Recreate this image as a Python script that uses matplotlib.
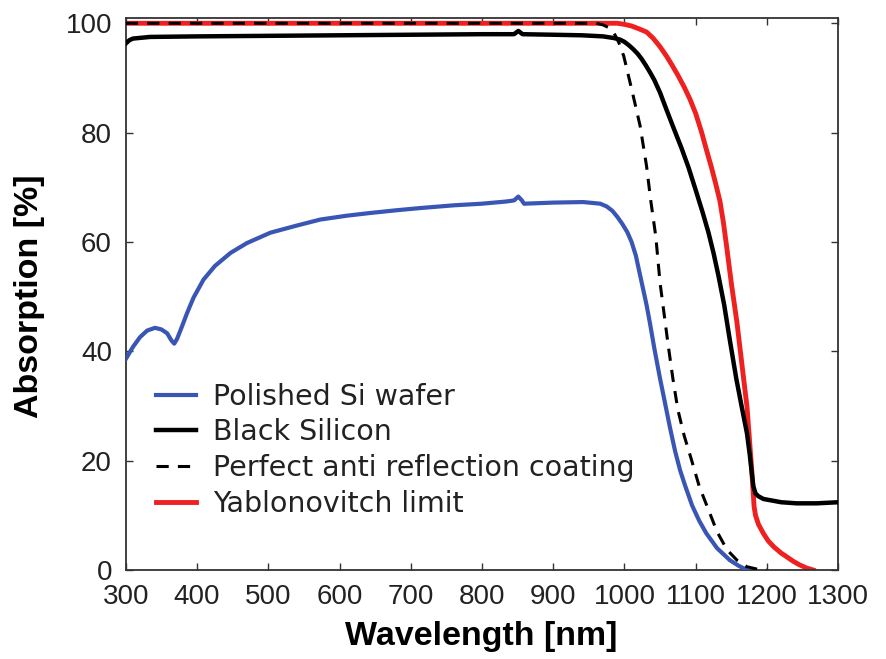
"""
Absorption spectra: polished Si wafer, black silicon, perfect AR coating
and the Yablonovitch limit, 300-1300 nm.
"""

import matplotlib
matplotlib.use("Agg")
import matplotlib.pyplot as plt
import matplotlib.ticker as mticker

# ── Data ──────────────────────────────────────────────────────────────────────
wl_polished = [300, 310, 320, 330, 341, 350, 358, 364, 368, 372, 379, 386, 395,
               409, 425, 447, 470, 503, 540, 573, 610, 643, 680, 713, 760, 800,
               834, 845, 851, 856, 859, 900, 942, 966, 975, 983, 990, 997, 1004,
               1010, 1016, 1021, 1026, 1031, 1036, 1042, 1050, 1057, 1064, 1071,
               1078, 1085, 1095, 1105, 1115, 1130, 1148, 1160, 1172]
abs_polished = [38.6, 40.8, 42.6, 43.8, 44.3, 44.0, 43.3, 42.0, 41.4, 42.3, 44.6,
                47.0, 49.8, 53.1, 55.6, 58.0, 59.8, 61.7, 63.0, 64.1, 64.8, 65.3,
                65.8, 66.2, 66.7, 67.0, 67.4, 67.6, 68.3, 67.6, 67.0, 67.2, 67.3,
                67.0, 66.5, 65.7, 64.6, 63.3, 61.8, 60.0, 57.5, 54.5, 51.5, 48.5,
                45.0, 40.5, 35.0, 30.5, 26.0, 21.8, 18.3, 15.5, 11.8, 9.0, 6.7,
                4.0, 1.8, 0.8, 0.0]

wl_black = [300, 305, 310, 334, 400, 500, 600, 700, 800, 845, 851, 857, 900, 940,
            970, 985, 994, 1000, 1006, 1012, 1018, 1024, 1030, 1036, 1042, 1050,
            1059, 1070, 1080, 1090, 1100, 1110, 1118, 1125, 1132, 1140, 1148,
            1157, 1165, 1172, 1176, 1179, 1181, 1184, 1188, 1195, 1220, 1242,
            1270, 1300]
abs_black = [96.3, 96.9, 97.2, 97.5, 97.6, 97.7, 97.8, 97.9, 98.0, 98.0, 98.6,
             98.0, 97.9, 97.8, 97.6, 97.3, 97.0, 96.6, 96.0, 95.3, 94.5, 93.5,
             92.3, 91.0, 89.6, 87.3, 84.2, 80.5, 77.2, 73.6, 69.5, 65.3, 61.7,
             58.0, 53.8, 48.5, 42.0, 35.0, 29.6, 25.0, 21.0, 17.5, 15.3, 14.0,
             13.5, 13.0, 12.4, 12.2, 12.2, 12.4]

wl_arc = [300, 960, 970, 978, 985, 992, 999, 1008, 1015, 1022, 1031, 1037, 1044,
          1050, 1061, 1068, 1075, 1084, 1094, 1105, 1118, 1130, 1144, 1158, 1172,
          1185, 1200]
abs_arc = [100, 100, 99.7, 99.2, 98.3, 96.5, 94.0, 89.1, 85.2, 81.2, 73.9, 67.5,
           61.0, 52.5, 41.5, 35.0, 29.3, 24.5, 20.2, 15.3, 11.0, 7.0, 3.7, 1.8,
           0.6, 0.2, 0.0]

wl_yab = [300, 990, 1000, 1010, 1020, 1031, 1040, 1050, 1059, 1067, 1075, 1084,
          1092, 1100, 1108, 1115, 1122, 1128, 1134, 1139, 1144, 1150, 1158, 1165,
          1172, 1176, 1179, 1182, 1184, 1188, 1195, 1202, 1210, 1220, 1228, 1237,
          1245, 1255, 1265]
abs_yab = [100, 100, 99.8, 99.5, 99.0, 98.4, 97.3, 95.7, 94.0, 92.3, 90.5, 88.3,
           86.1, 83.5, 80.2, 76.9, 73.7, 70.7, 67.5, 63.5, 58.6, 52.5, 45.2, 37.5,
           29.9, 23.0, 17.7, 11.6, 10.0, 8.4, 6.7, 5.3, 4.2, 3.1, 2.4, 1.6, 1.0,
           0.4, 0.0]

x_ticks = list(range(300, 1301, 100))
y_ticks = list(range(0, 101, 20))

# ── Plot ───────────────────────────────────────────────────────────────────────
TICK_FONT = ["Liberation Sans", "DejaVu Sans"]

fig = plt.figure(figsize=(8.86, 6.59), dpi=100)
ax = fig.add_axes([0.142, 0.135, 0.804, 0.838])

ax.plot(wl_polished, abs_polished, color="#3a56b4", lw=3.0,
        label="Polished Si wafer", zorder=3)
ax.plot(wl_black, abs_black, color="black", lw=3.2,
        label="Black Silicon", zorder=4)
ax.plot(wl_arc, abs_arc, color="black", lw=2.2, dashes=(4, 3),
        label="Perfect anti reflection coating", zorder=5)
ax.plot(wl_yab, abs_yab, color="#ee2020", lw=3.5,
        label="Yablonovitch limit", zorder=2)

ax.set_xlim(300, 1300)
ax.set_ylim(0, 101)
ax.xaxis.set_major_locator(mticker.FixedLocator(x_ticks))
ax.yaxis.set_major_locator(mticker.FixedLocator(y_ticks))

ax.tick_params(direction="in", top=True, right=True, length=5, width=1,
               color="#333333", labelsize=20, labelcolor="#222222", pad=10)
for lab in ax.get_xticklabels() + ax.get_yticklabels():
    lab.set_family(TICK_FONT)
for sp in ax.spines.values():
    sp.set_linewidth(1.3)
    sp.set_color("#333333")

ax.set_xlabel("Wavelength [nm]", fontsize=24.5, fontweight="bold", family=TICK_FONT)
ax.set_ylabel("Absorption [%]", fontsize=24.5, fontweight="bold", family=TICK_FONT)
ax.xaxis.set_label_coords(0.499, -0.121)
ax.xaxis.label.set_va("center")
ax.yaxis.set_label_coords(-0.135, 0.495)
ax.yaxis.label.set_va("center")

leg = ax.legend(loc="upper left", bbox_to_anchor=(0.027, 0.36), frameon=False,
                fontsize=20.5, handlelength=1.4, handletextpad=0.6,
                labelspacing=0.27, borderaxespad=0.0)
for txt in leg.get_texts():
    txt.set_color("#222222")

fig.savefig("out.png", dpi=100)
